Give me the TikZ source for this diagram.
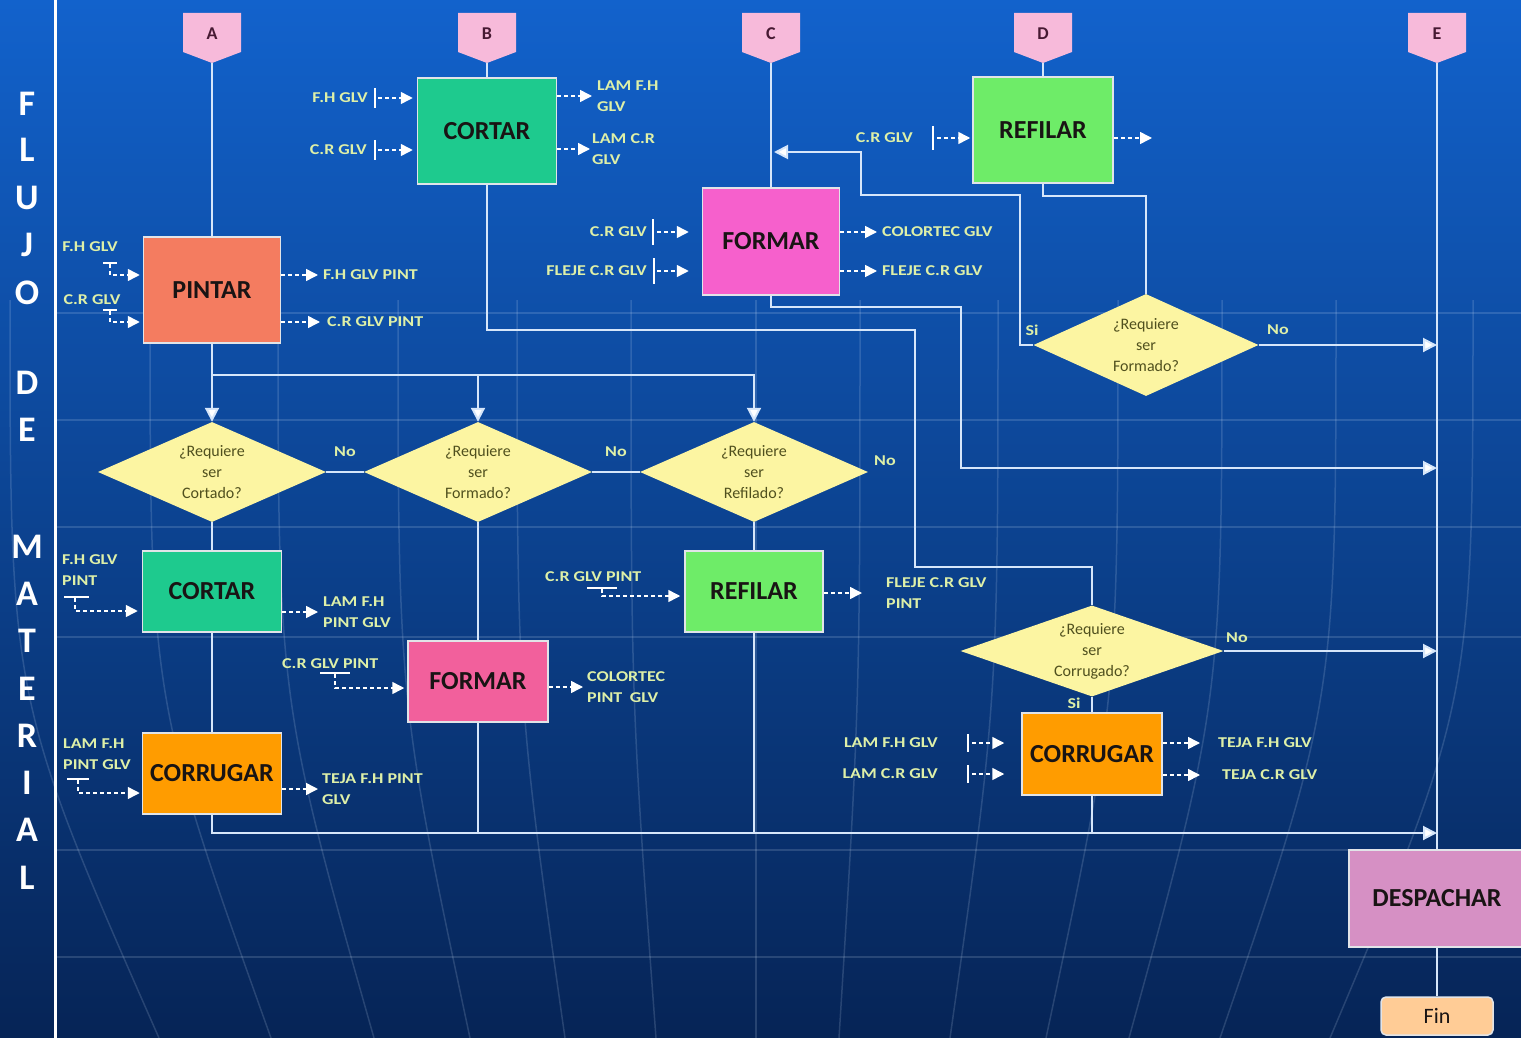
\documentclass[tikz,border=0pt]{standalone}
\usepackage{fontspec}
\setmainfont{Carlito}
\newfontfamily\tagfont{Carlito}[FakeStretch=1.2]
\usetikzlibrary{shapes.geometric,arrows.meta,positioning}

\definecolor{skytop}{RGB}{18,98,204}
\definecolor{skymid}{RGB}{12,62,146}
\definecolor{skylow}{RGB}{6,36,86}
\definecolor{wire}{RGB}{214,230,250}
\definecolor{rim}{RGB}{225,228,232}
\definecolor{headpink}{RGB}{247,186,218}
\definecolor{headink}{RGB}{70,25,50}
\definecolor{boxink}{RGB}{25,20,20}
\definecolor{tagink}{RGB}{222,240,168}
\definecolor{askfill}{RGB}{252,245,162}
\definecolor{askink}{RGB}{80,80,30}
\definecolor{cutgreen}{RGB}{30,202,142}
\definecolor{paintred}{RGB}{244,124,96}
\definecolor{formmag}{RGB}{246,96,204}
\definecolor{formrose}{RGB}{242,96,156}
\definecolor{trimgreen}{RGB}{110,236,104}
\definecolor{corrorange}{RGB}{255,156,0}
\definecolor{shipmauve}{RGB}{214,144,196}
\definecolor{finpeach}{RGB}{255,204,150}

\begin{document}
\begin{tikzpicture}[x=1pt,y=-1pt,
    proc/.style={draw=rim,line width=1.5pt,minimum width=139pt,minimum height=106pt,inner sep=0pt,
      font=\fontsize{26}{26}\selectfont\bfseries,text=boxink},
    low/.style={minimum height=81pt},
    ask/.style={diamond,fill=askfill,aspect=2.3,inner sep=0pt,minimum width=228pt,minimum height=100pt,
      align=center,font=\fontsize{16}{21}\selectfont,text=askink},
    tag/.style={inner sep=0pt,align=left,text=tagink,font=\tagfont\fontsize{15}{21}\selectfont\bfseries},
    answer/.style={inner sep=0pt,text=tagink,font=\tagfont\fontsize{15}{15}\selectfont\bfseries},
    flow/.style={draw=wire,line width=2pt},
    tip/.style={-{Triangle[length=14pt,width=14pt,fill=white]}},
    feed/.style={draw=white,line width=1.5pt,dash pattern=on 4pt off 3pt,
      -{Triangle[length=12pt,width=12pt,fill=white]}},
    bar/.style={draw=white,line width=1.2pt},
    side/.style={text=white,font=\fontsize{36}{36}\selectfont\bfseries},
    headtxt/.style={text=headink,font=\fontsize{18}{18}\selectfont\bfseries},
    globe/.style={draw=wire,opacity=0.16,line width=1.5pt}]

    \useasboundingbox (0,0) rectangle (1521,1038);
    \clip (0,0) rectangle (1521,1038);
    \shade[top color=skytop,middle color=skymid,bottom color=skylow] (0,0) rectangle (1521,1038);

    \foreach \y in {313,420,527,637,850,957}
        \draw[globe] (55,\y) -- (1521,\y);
    \foreach \a/\b in {10/159,150/271,278/374,398/470,517/565,631/656,756/756,860/839,998/950,1118/1046,1222/1129,1336/1220,1473/1330}
        \draw[globe] (\a,300) .. controls (\a,700) .. (\b,1038);

    \draw[white,line width=3pt] (55,0) -- (55,1038);
    \foreach \c/\y [count=\i] in {F/104,L/150,U/198,J/245,O/293,D/383,E/430,M/547,A/594,T/641,E/689,R/736,I/783,A/830,L/878}
        \node[side] (fl\i) at (27,\y) {\c};

    \foreach \l/\x in {A/212,B/487,C/771,D/1043,E/1437}{
        \fill[headpink] (\x-29,13) -- (\x+29,13) -- (\x+29,52) -- (\x,63) -- (\x-29,52) -- cycle;
        \node[headtxt] (h\l) at (\x,34) {\l};
        \coordinate (t\l) at (\x,63);
    }

    \node[proc,fill=cutgreen] (cortA) at (487,131) {CORTAR};
    \node[proc,fill=paintred,minimum width=137pt] (pint) at (212,290) {PINTAR};
    \node[proc,fill=formmag,minimum width=137pt,minimum height=107pt] (formA) at (771,241.5) {FORMAR};
    \node[proc,fill=trimgreen,minimum width=140pt] (refA) at (1043,130) {REFILAR};
    \node[proc,low,fill=cutgreen] (cortB) at (212,591.5) {CORTAR};
    \node[proc,low,fill=formrose,minimum width=140pt] (formB) at (478,681.5) {FORMAR};
    \node[proc,low,fill=trimgreen,minimum width=138pt] (refB) at (754,591.5) {REFILAR};
    \node[proc,low,fill=corrorange] (corrB) at (212,773.5) {CORRUGAR};
    \node[proc,fill=corrorange,minimum width=140pt,minimum height=82pt] (corrR) at (1092,754) {CORRUGAR};
    \node[proc,fill=shipmauve,minimum width=176pt,minimum height=97pt] (desp) at (1437,898.5) {DESPACHAR};
    \node[proc,fill=finpeach,rounded corners=5pt,minimum width=112pt,minimum height=38pt,
        font=\fontsize{22}{22}\selectfont] (fin) at (1437,1016) {Fin};

    \node[ask] (askcut) at (212,472) {¿Requiere\\ser\\Cortado?};
    \node[ask] (askform) at (478,472) {¿Requiere\\ser\\Formado?};
    \node[ask] (askref) at (754,472) {¿Requiere\\ser\\Refilado?};
    \node[ask,minimum width=225pt,minimum height=102pt] (askre) at (1146,345) {¿Requiere\\ser\\Formado?};
    \node[ask,aspect=2.9,minimum width=263pt,minimum height=91pt] (askcorr) at (1092,651) {¿Requiere\\ser\\Corrugado?};

    \draw[flow] (tA) -- (pint.north);
    \draw[flow] (tB) -- (cortA.north);
    \draw[flow] (tC) -- (formA.north);
    \draw[flow] (tD) -- (refA.north);
    \draw[flow] (tE) -- (desp.north);
    \draw[flow] (desp.south) -- (fin.north);

    \coordinate (fork) at (212,375);
    \draw[flow] (pint.south) -- (fork);
    \draw[flow,tip] (fork) -- (askcut.north);
    \draw[flow,tip] (fork) -| (askform.north);
    \draw[flow,tip] (fork) -| (askref.north);
    \draw[flow] (askcut.east) -- node[answer,above=14pt] (no1) {No} (askform.west);
    \draw[flow] (askform.east) -- node[answer,above=14pt] (no2) {No} (askref.west);
    \node[answer,anchor=west] (no3) at (874,461) {No};

    \coordinate (eLow) at (1437,833);
    \draw[flow] (askcut.south) -- (cortB.north);
    \draw[flow] (cortB.south) -- (corrB.north);
    \draw[flow,tip] (corrB.south) |- (eLow);
    \draw[flow] (askform.south) -- (formB.north);
    \draw[flow] (formB.south) -- (formB.south |- eLow);
    \draw[flow] (askref.south) -- (refB.north);
    \draw[flow] (refB.south) -- (refB.south |- eLow);
    \draw[flow] (corrR.south) -- (corrR.south |- eLow);

    \coordinate (bendB1) at (915,330);
    \coordinate (bendB2) at (915,567);
    \draw[flow] (cortA.south) |- (bendB1) -- (bendB2) -| (askcorr.north);
    \draw[flow] (askcorr.south) -- (corrR.north);
    \node[answer] (si2) at (1074,703) {Si};
    \draw[flow,tip] (askcorr.east) -- (askcorr.east -| tE);
    \node[answer] (no5) at (1237,638) {No};

    \coordinate (bendC1) at (961,307);
    \coordinate (eMid) at (1437,468);
    \draw[flow,tip] (formA.south) |- (bendC1) |- (eMid);

    \draw[flow] (refA.south) -- ++(0,12) -| (askre.north);
    \coordinate (siTurn) at (1020,195);
    \coordinate (siBack) at (861,152);
    \coordinate (cJoin) at (774,152);
    \draw[flow,tip] (askre.west) -| (siTurn) -| (siBack) -- (cJoin);
    \node[answer] (si1) at (1032,330) {Si};
    \draw[flow,tip] (askre.east) -- (askre.east -| tE);
    \node[answer] (no4) at (1278,330) {No};

    \node[tag,anchor=east] (inFH) at (368,98) {F.H GLV};
    \draw[bar] ([xshift=7pt]inFH.east) ++(0,-10) -- ++(0,20);
    \draw[feed,shorten >=4pt] ([xshift=10pt]inFH.east) -- (inFH -| cortA.west);
    \node[tag,anchor=east] (inCR) at (367,150) {C.R GLV};
    \draw[bar] ([xshift=8pt]inCR.east) ++(0,-10) -- ++(0,20);
    \draw[feed,shorten >=4pt] ([xshift=11pt]inCR.east) -- (inCR -| cortA.west);
    \node[tag,anchor=west] (ocF) at (597,96) {LAM F.H\\GLV};
    \draw[feed] (cortA.east |- ocF) -- ([xshift=-5pt]ocF.west);
    \node[tag,anchor=west] (ocC) at (592,149) {LAM C.R\\GLV};
    \draw[feed] (cortA.east |- ocC) -- ([xshift=-2pt]ocC.west);

    \node[tag] (ipF) at (90,247) {F.H GLV};
    \coordinate (kpF) at (110,275);
    \draw[bar] (kpF) ++(-7,-12) -- ++(14,0);
    \draw[feed,shorten >=3pt] (kpF) ++(0,-11) -- (kpF) -- (kpF -| pint.west);
    \node[tag] (ipC) at (92,300) {C.R GLV};
    \coordinate (kpC) at (110,322);
    \draw[bar] (kpC) ++(-7,-12) -- ++(14,0);
    \draw[feed,shorten >=3pt] (kpC) ++(0,-11) -- (kpC) -- (kpC -| pint.west);
    \node[tag,anchor=west] (opF) at (323,275) {F.H GLV PINT};
    \draw[feed] (pint.east |- opF) -- ([xshift=-5pt]opF.west);
    \node[tag,anchor=west] (opC) at (327,322) {C.R GLV PINT};
    \draw[feed] (pint.east |- opC) -- ([xshift=-7pt]opC.west);

    \node[tag,anchor=east] (inFC) at (647,232) {C.R GLV};
    \draw[bar] ([xshift=6pt]inFC.east) ++(0,-13) -- ++(0,26);
    \draw[feed,shorten >=13pt] ([xshift=10pt]inFC.east) -- (inFC -| formA.west);
    \node[tag,anchor=east] (inFF) at (647,271) {FLEJE C.R GLV};
    \draw[bar] ([xshift=7pt]inFF.east) ++(0,-13) -- ++(0,26);
    \draw[feed,shorten >=13pt] ([xshift=10pt]inFF.east) -- (inFF -| formA.west);
    \node[tag,anchor=west] (ofC) at (882,232) {COLORTEC GLV};
    \draw[feed] (formA.east |- ofC) -- ([xshift=-5pt]ofC.west);
    \node[tag,anchor=west] (ofF) at (882,271) {FLEJE C.R GLV};
    \draw[feed] (formA.east |- ofF) -- ([xshift=-5pt]ofF.west);

    \node[tag,anchor=east] (inRC) at (913,138) {C.R GLV};
    \draw[bar] ([xshift=20pt]inRC.east) ++(0,-12) -- ++(0,24);
    \draw[feed,shorten >=2pt] ([xshift=24pt]inRC.east) -- (inRC -| refA.west);
    \coordinate (orA) at (1152,138);
    \draw[feed] (refA.east |- orA) -- (orA);

    \node[tag,anchor=west] (icF) at (62,570) {F.H GLV\\PINT};
    \coordinate (kcF) at (75,611);
    \draw[bar] (kcF) ++(-11,-14) -- ++(25,0);
    \draw[feed,shorten >=4pt] (kcF) ++(0,-13) -- (kcF) -- (kcF -| cortB.west);
    \node[tag,anchor=west] (ocB) at (323,612) {LAM F.H\\PINT GLV};
    \draw[feed] (cortB.east |- ocB) -- ([xshift=-5pt]ocB.west);

    \node[tag,anchor=west] (ifC) at (282,664) {C.R GLV PINT};
    \coordinate (kfC) at (335,688);
    \draw[bar] (kfC) ++(-15,-15) -- ++(30,0);
    \draw[feed,shorten >=3pt] (kfC) ++(0,-14) -- (kfC) -- (kfC -| formB.west);
    \node[tag,anchor=west] (ofB) at (587,687) {COLORTEC\\PINT\enspace GLV};
    \draw[feed] (formB.east |- ofB) -- ([xshift=-4pt]ofB.west);

    \node[tag,anchor=west] (irC) at (545,577) {C.R GLV PINT};
    \coordinate (krC) at (602,596);
    \draw[bar] (krC) ++(-15,-8) -- ++(30,0);
    \draw[feed,shorten >=4pt] (krC) ++(0,-7) -- (krC) -- (krC -| refB.west);
    \node[tag,anchor=west] (orB) at (886,593) {FLEJE C.R GLV\\PINT};
    \draw[feed] (refB.east |- orB) -- ([xshift=-24pt]orB.west);

    \node[tag,anchor=west] (ibF) at (63,754) {LAM F.H\\PINT GLV};
    \coordinate (kbF) at (78,793);
    \draw[bar] (kbF) ++(-11,-14) -- ++(22,0);
    \draw[feed,shorten >=2pt] (kbF) ++(0,-13) -- (kbF) -- (kbF -| corrB.west);
    \node[tag,anchor=west] (obF) at (322,789) {TEJA F.H PINT\\GLV};
    \draw[feed] (corrB.east |- obF) -- ([xshift=-4pt]obF.west);

    \node[tag,anchor=east] (inLF) at (938,743) {LAM F.H GLV};
    \draw[bar] ([xshift=30pt]inLF.east) ++(0,-9) -- ++(0,18);
    \draw[feed,shorten >=17pt] ([xshift=34pt]inLF.east) -- (inLF -| corrR.west);
    \node[tag,anchor=east] (inLC) at (938,774) {LAM C.R GLV};
    \draw[bar] ([xshift=30pt]inLC.east) ++(0,-9) -- ++(0,18);
    \draw[feed,shorten >=17pt] ([xshift=34pt]inLC.east) -- (inLC -| corrR.west);
    \node[tag,anchor=west] (otF) at (1218,743) {TEJA F.H GLV};
    \draw[feed] (corrR.east |- otF) -- ([xshift=-18pt]otF.west);
    \node[tag,anchor=west] (otC) at (1222,775) {TEJA C.R GLV};
    \draw[feed] (corrR.east |- otC) -- ([xshift=-22pt]otC.west);
\end{tikzpicture}
\end{document}
